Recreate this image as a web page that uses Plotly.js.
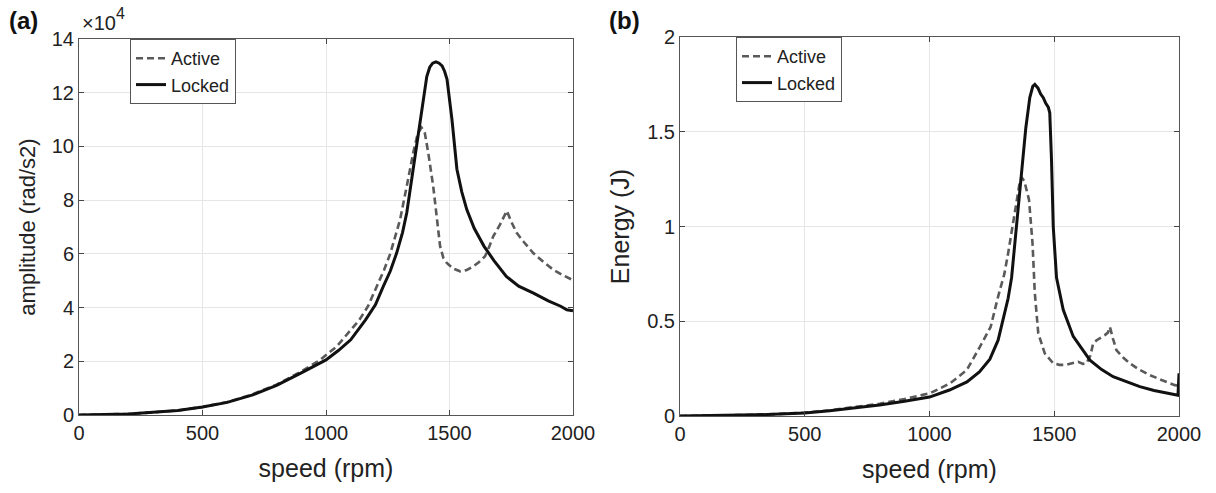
<!DOCTYPE html>
<html>
<head>
<meta charset="utf-8">
<script src="https://cdn.plot.ly/plotly-3.0.1.min.js"></script>
<style>
html,body{margin:0;padding:0;background:#fff;}
#chart{width:1216px;height:493px;}
</style>
</head>
<body>
<div id="chart"></div>
<script>
// ---- Panel (a): amplitude (x10^4 rad/s2) vs speed (rpm)
var speedActiveA = [0,100,200,300,400,500,600,700,800,900,976,1043,1100,1135,1170,1205,1235,1260,1280,1300,1327,1353,1372,1387,1400,1414,1434,1448,1462,1475,1489,1515,1543,1570,1596,1620,1644,1660,1677,1705,1732,1750,1772,1800,1839,1880,1920,1960,2000];
var ampActive = [0,0.01,0.04,0.1,0.17,0.3,0.48,0.76,1.13,1.62,2.05,2.55,3.15,3.54,4.05,4.75,5.4,6.0,6.6,7.28,8.52,9.76,10.5,10.7,10.5,9.76,8.52,7.28,6.28,5.85,5.66,5.45,5.35,5.4,5.53,5.7,5.91,6.25,6.65,7.1,7.6,7.2,6.78,6.45,6.03,5.7,5.41,5.2,5.02];

var speedLockedA = [0,100,200,300,400,500,600,700,800,900,1000,1050,1100,1160,1200,1232,1260,1286,1310,1327,1353,1381,1408,1420,1432,1445,1458,1470,1480,1490,1500,1510,1530,1550,1570,1600,1640,1680,1730,1780,1840,1900,1950,1975,2000];
var ampLocked = [0,0.01,0.04,0.1,0.17,0.3,0.47,0.74,1.1,1.57,2.05,2.4,2.8,3.54,4.1,4.79,5.35,6.03,6.8,7.53,9.14,11.0,12.6,12.95,13.1,13.15,13.1,13.0,12.8,12.5,11.8,11.0,9.15,8.3,7.65,6.95,6.28,5.75,5.16,4.8,4.54,4.25,4.05,3.92,3.88];

// ---- Panel (b): energy (J) vs speed (rpm)
var speedActiveB = [0,100,200,300,400,500,600,700,800,900,1002,1082,1149,1202,1245,1275,1300,1315,1342,1360,1369,1380,1399,1413,1422,1436,1462,1496,1520,1549,1575,1596,1615,1629,1645,1656,1670,1683,1703,1715,1723,1735,1749,1775,1803,1840,1883,1930,1983,2000];
var energyActive = [0,0.001,0.003,0.006,0.011,0.018,0.03,0.046,0.065,0.09,0.12,0.172,0.242,0.365,0.47,0.63,0.75,0.857,1.086,1.22,1.26,1.24,1.14,0.91,0.65,0.436,0.33,0.278,0.27,0.27,0.28,0.286,0.275,0.278,0.32,0.383,0.4,0.41,0.427,0.44,0.47,0.41,0.348,0.31,0.278,0.245,0.216,0.19,0.163,0.16];

var speedLockedB = [0,100,200,300,400,500,600,700,800,900,1000,1080,1150,1200,1242,1275,1295,1315,1329,1349,1369,1386,1402,1414,1422,1435,1445,1456,1466,1476,1482,1486,1489,1496,1509,1536,1576,1643,1690,1736,1790,1843,1900,1950,1990,1996,2000];
var energyLocked = [0,0.001,0.003,0.006,0.01,0.016,0.028,0.042,0.058,0.078,0.1,0.137,0.18,0.233,0.3,0.4,0.506,0.62,0.73,1.0,1.31,1.52,1.68,1.74,1.75,1.73,1.70,1.68,1.65,1.63,1.6,1.5,1.35,1.0,0.73,0.56,0.42,0.295,0.245,0.207,0.18,0.155,0.135,0.12,0.108,0.11,0.225];

var xTicks = [0,500,1000,1500,2000];
var yTicksA = [0,2,4,6,8,10,12,14];
var yTicksB = [0,0.5,1,1.5,2];
var seriesNames = ['Active','Locked'];

var activeColor = '#5a5a5a';
var lockedColor = '#111111';
var FONT = 'Liberation Sans, Arial, Helvetica, sans-serif';

var traces = [
  {x: speedActiveA, y: ampActive, name: seriesNames[0], type:'scatter', mode:'lines',
   line:{color:activeColor, width:2.6, dash:'7px,4px'}, xaxis:'x', yaxis:'y', legend:'legend'},
  {x: speedLockedA, y: ampLocked, name: seriesNames[1], type:'scatter', mode:'lines',
   line:{color:lockedColor, width:3}, xaxis:'x', yaxis:'y', legend:'legend'},
  {x: speedActiveB, y: energyActive, name: seriesNames[0], type:'scatter', mode:'lines',
   line:{color:activeColor, width:2.6, dash:'7px,4px'}, xaxis:'x2', yaxis:'y2', legend:'legend2'},
  {x: speedLockedB, y: energyLocked, name: seriesNames[1], type:'scatter', mode:'lines',
   line:{color:lockedColor, width:3}, xaxis:'x2', yaxis:'y2', legend:'legend2'}
];

function xAxis(domain, anchor){
  return {
    domain: domain, anchor: anchor, range:[0,2000], tickvals: xTicks,
    ticks:'inside', ticklen:5, tickcolor:'#444', mirror:'ticks', showline:true, linecolor:'#555', linewidth:1,
    showgrid:true, gridcolor:'#e6e6e6', gridwidth:1, zeroline:false,
    tickfont:{family:FONT, size:20, color:'#222'},
    title:{text:'speed (rpm)', font:{family:FONT, size:25, color:'#222'}, standoff:16}
  };
}
function yAxis(domain, anchor, range, ticks, title, tsize){
  return {
    domain: domain, anchor: anchor, range: range, tickvals: ticks,
    ticks:'inside', ticklen:5, tickcolor:'#444', mirror:'ticks', showline:true, linecolor:'#555', linewidth:1,
    showgrid:true, gridcolor:'#e6e6e6', gridwidth:1, zeroline:false,
    tickfont:{family:FONT, size:20, color:'#222'},
    title:{text: title, font:{family:FONT, size:tsize, color:'#222'}, standoff:10}
  };
}

var W = 1216, H = 493;
var layout = {
  width: W, height: H,
  margin:{l:0, r:0, t:0, b:0},
  paper_bgcolor:'#fff', plot_bgcolor:'#fff',
  showlegend:true,
  xaxis: xAxis([79/W, 573/W], 'y'),
  yaxis: yAxis([(H-415)/H, (H-39)/H], 'x', [0,14], yTicksA, 'amplitude (rad/s2)', 22),
  xaxis2: xAxis([680/W, 1179/W], 'y2'),
  yaxis2: yAxis([(H-416)/H, (H-37)/H], 'x2', [0,2], yTicksB, 'Energy (J)', 25),
  legend: {x:130/W, y:(H-39)/H, xanchor:'left', yanchor:'top', bgcolor:'#fff',
           bordercolor:'#555', borderwidth:1, font:{family:FONT, size:18, color:'#222'},
           tracegroupgap:0, itemwidth:30},
  legend2: {x:736/W, y:(H-37)/H, xanchor:'left', yanchor:'top', bgcolor:'#fff',
           bordercolor:'#555', borderwidth:1, font:{family:FONT, size:18, color:'#222'},
           tracegroupgap:0, itemwidth:30},
  annotations: [
    {text:'<b>(a)</b>', xref:'paper', yref:'paper', x:7/W, y:(H-5)/H, xanchor:'left', yanchor:'top',
     showarrow:false, font:{family:FONT, size:24, color:'#111'}},
    {text:'<b>(b)</b>', xref:'paper', yref:'paper', x:607/W, y:(H-5)/H, xanchor:'left', yanchor:'top',
     showarrow:false, font:{family:FONT, size:24, color:'#111'}},
    {text:'\u00d710', xref:'paper', yref:'paper', x:80/W, y:(H-36)/H, xanchor:'left', yanchor:'bottom',
     showarrow:false, font:{family:FONT, size:20, color:'#222'}},
    {text:'4', xref:'paper', yref:'paper', x:114/W, y:(H-24)/H, xanchor:'left', yanchor:'bottom',
     showarrow:false, font:{family:FONT, size:16, color:'#222'}}
  ]
};

Plotly.newPlot('chart', traces, layout, {staticPlot:true, displayModeBar:false});
</script>
</body>
</html>
